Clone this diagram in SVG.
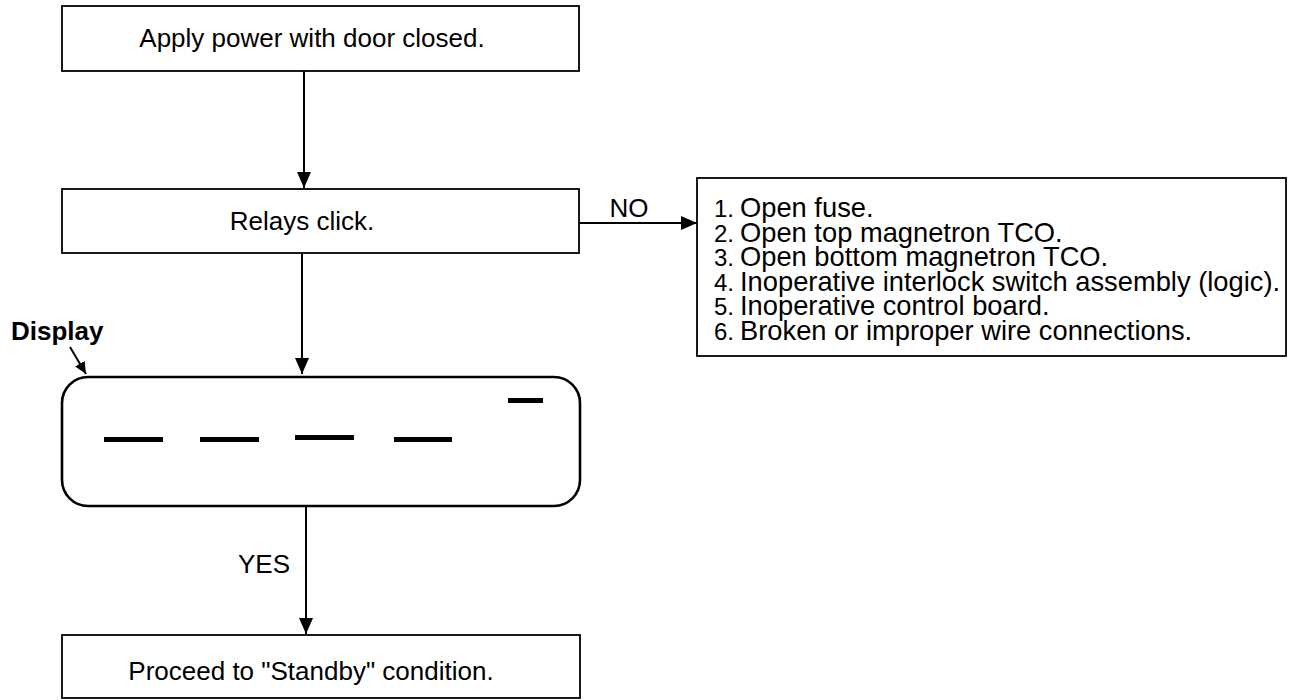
<svg xmlns="http://www.w3.org/2000/svg" width="1291" height="700" viewBox="0 0 1291 700">
<style>
  .box { fill: #fff; stroke: #000; stroke-width: 1.8; }
  .disp { fill: #fff; stroke: #000; stroke-width: 2.6; }
  .t { font-family: "Liberation Sans", Arial, sans-serif; font-size: 26px; fill: #000; }
  .lst { font-family: "Liberation Sans", Arial, sans-serif; font-size: 27.3px; fill: #000; }
  .num { font-size: 24px; }
  .b { font-weight: bold; }
  .line { stroke: #000; stroke-width: 2; fill: none; }
  .seg { fill: #000; }
</style>
<defs>
  <marker id="ah" markerUnits="userSpaceOnUse" markerWidth="16" markerHeight="14" refX="16" refY="7" orient="auto">
    <path d="M0,0 L16,7 L0,14 z" fill="#000"/>
  </marker>
  <marker id="ahs" markerUnits="userSpaceOnUse" markerWidth="12" markerHeight="11" refX="12" refY="5.5" orient="auto">
    <path d="M0,0 L12,5.5 L0,11 z" fill="#000"/>
  </marker>
</defs>

<g id="connectors">
  <line class="line" x1="304" y1="71" x2="304" y2="188" marker-end="url(#ah)"/>
  <line class="line" x1="579" y1="223" x2="697" y2="223" marker-end="url(#ah)"/>
  <line class="line" x1="302" y1="253" x2="302" y2="374" marker-end="url(#ah)"/>
  <line class="line" x1="306" y1="506" x2="306" y2="634" marker-end="url(#ah)"/>
  <line class="line" x1="70" y1="347" x2="86" y2="374" marker-end="url(#ahs)"/>
  <text class="t" x="629" y="217" text-anchor="middle">NO</text>
  <text class="t" x="290" y="573" text-anchor="end">YES</text>
</g>

<g id="start">
  <rect class="box" x="62" y="6" width="517" height="65"/>
  <text class="t" x="312" y="47" text-anchor="middle">Apply power with door closed.</text>
</g>

<g id="relays">
  <rect class="box" x="62" y="189" width="517" height="64"/>
  <text class="t" x="302" y="230" text-anchor="middle">Relays click.</text>
</g>

<g id="causes">
  <rect class="box" x="697" y="178" width="589" height="178"/>
  <text class="lst">
    <tspan class="num" x="714" y="217">1.</tspan><tspan x="740">Open fuse.</tspan>
    <tspan class="num" x="714" y="241.6">2.</tspan><tspan x="740">Open top magnetron TCO.</tspan>
    <tspan class="num" x="714" y="266.2">3.</tspan><tspan x="740">Open bottom magnetron TCO.</tspan>
    <tspan class="num" x="714" y="290.8">4.</tspan><tspan x="740">Inoperative interlock switch assembly (logic).</tspan>
    <tspan class="num" x="714" y="315.4">5.</tspan><tspan x="740">Inoperative control board.</tspan>
    <tspan class="num" x="714" y="340">6.</tspan><tspan x="740">Broken or improper wire connections.</tspan>
  </text>
</g>

<g id="display">
  <text class="t b" x="11" y="340">Display</text>
  <rect class="disp" x="62" y="377" width="518" height="129" rx="26" ry="26"/>
  <rect class="seg" x="104" y="437" width="59" height="5"/>
  <rect class="seg" x="200" y="437" width="59" height="5"/>
  <rect class="seg" x="295" y="435" width="59" height="5"/>
  <rect class="seg" x="394" y="437" width="58" height="5"/>
  <rect class="seg" x="508" y="398" width="35" height="5"/>
</g>

<g id="standby">
  <rect class="box" x="62" y="635" width="518" height="63"/>
  <text class="t" x="311" y="680" text-anchor="middle">Proceed to "Standby" condition.</text>
</g>
</svg>
